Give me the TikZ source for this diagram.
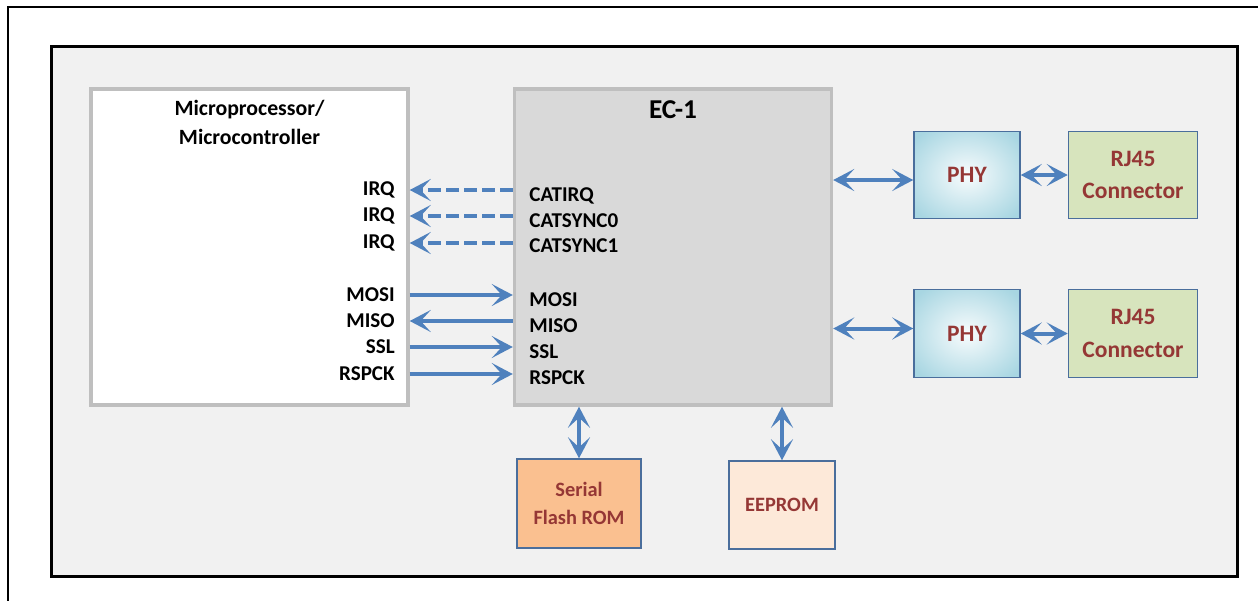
\documentclass[tikz,border=0pt]{standalone}
\usepackage{fontspec}
\setmainfont{Carlito}
\usetikzlibrary{arrows.meta,positioning,calc}
\definecolor{arrowblue}{HTML}{4F81BD}
\definecolor{textred}{HTML}{953735}
\definecolor{boxedge}{HTML}{4A6E9C}
\definecolor{chipgray}{HTML}{BFBFBF}
\definecolor{ecfill}{HTML}{D9D9D9}
\definecolor{panelgray}{HTML}{F1F1F1}
\definecolor{phyblue}{HTML}{A8D6E2}
\definecolor{rjgreen}{HTML}{D7E4BD}
\definecolor{flashorange}{HTML}{FAC090}
\definecolor{eepromfill}{HTML}{FDE9D9}
\pgfdeclareradialshading{physhade}{\pgfpoint{0bp}{0bp}}{color(0bp)=(white!92!phyblue); color(18bp)=(white!40!phyblue); color(32bp)=(phyblue); color(70bp)=(phyblue)}

\begin{document}
\begin{tikzpicture}[x=0.02cm,y=-0.02cm]
\useasboundingbox (0,0) rectangle (1258,600);
\clip (0,0) rectangle (1258,600);

% frames
\draw[line width=0.05cm] (8,7) rectangle (1300,650);
\draw[line width=0.06cm,fill=panelgray] (51,46) rectangle (1237,576);

\begin{scope}[chip/.style={draw=chipgray,line width=0.07cm,minimum width=6.34cm,minimum height=6.32cm},
  block/.style={draw=boxedge,line width=0.03cm,align=center,text=textred,font=\bfseries\fontsize{13.4}{18.5}\selectfont},
  sig/.style={inner sep=0pt,font=\bfseries\fontsize{12}{14}\selectfont},
  bus/.style={arrowblue,line width=0.08cm,-{Stealth[length=0.42cm,width=0.44cm,inset=0.2cm]}},
  bibus/.style={arrowblue,line width=0.08cm,{Stealth[length=0.42cm,width=0.44cm,inset=0.2cm]}-{Stealth[length=0.42cm,width=0.44cm,inset=0.2cm]}}]
% Nodes
\node[chip,fill=white,label={[align=center,anchor=north,yshift=-0.14cm,font=\bfseries\fontsize{12.4}{16.5}\selectfont]north:Microprocessor/\\Microcontroller}] at (249.5,247) (mcu) {};
\node[chip,fill=ecfill,label={[anchor=north,yshift=-0.14cm,font=\bfseries\fontsize{15.5}{18}\selectfont]north:EC-1}] at (673,247) (ec) {};

\node[block,shading=physhade,minimum width=2.12cm,minimum height=1.74cm] at (967,175) (phy1) {PHY};
\node[block,fill=rjgreen,minimum width=2.58cm,minimum height=1.74cm,right=0.94cm of phy1] (rj1) {RJ45\\Connector};
\node[block,shading=physhade,minimum width=2.12cm,minimum height=1.76cm] at (967,333.5) (phy2) {PHY};
\node[block,fill=rjgreen,minimum width=2.58cm,minimum height=1.76cm,right=0.94cm of phy2] (rj2) {RJ45\\Connector};

\node[block,fill=flashorange,minimum width=2.48cm,minimum height=1.78cm,font=\bfseries\fontsize{11.6}{16}\selectfont] at (579,503.5) (flash) {Serial\\Flash ROM};
\node[block,fill=eepromfill,minimum width=2.12cm,minimum height=1.76cm,font=\bfseries\fontsize{11.6}{16}\selectfont] at (782,505) (eeprom) {EEPROM};

% signal names, mcu side
\node[sig,anchor=east] at (395,190) (irq1) {IRQ};
\node[sig,anchor=east] at (395,216) (irq2) {IRQ};
\node[sig,anchor=east] at (395,243) (irq3) {IRQ};
\node[sig,anchor=east] at (395,295) (mosi_m) {MOSI};
\node[sig,anchor=east] at (395,321) (miso_m) {MISO};
\node[sig,anchor=east] at (395,347) (ssl_m) {SSL};
\node[sig,anchor=east] at (395,374) (rspck_m) {RSPCK};

% signal names, ec side
\node[sig,anchor=west] at (529,196) (catirq) {CATIRQ};
\node[sig,anchor=west] at (529,221) (catsync0) {CATSYNC0};
\node[sig,anchor=west] at (529,246) (catsync1) {CATSYNC1};
\node[sig,anchor=west] at (529,300) (mosi_e) {MOSI};
\node[sig,anchor=west] at (529,326) (miso_e) {MISO};
\node[sig,anchor=west] at (529,352) (ssl_e) {SSL};
\node[sig,anchor=west] at (529,378) (rspck_e) {RSPCK};

%arcs
\path (ec.west |- irq1) edge[bus,dash pattern=on 0.26cm off 0.1cm] (mcu.east |- irq1);
\path (ec.west |- irq2) edge[bus,dash pattern=on 0.26cm off 0.1cm] (mcu.east |- irq2);
\path (ec.west |- irq3) edge[bus,dash pattern=on 0.26cm off 0.1cm] (mcu.east |- irq3);

\path (mcu.east |- mosi_m) edge[bus] (ec.west |- mosi_m);
\path (ec.west |- miso_m) edge[bus] (mcu.east |- miso_m);
\path (mcu.east |- ssl_m) edge[bus] (ec.west |- ssl_m);
\path (mcu.east |- rspck_m) edge[bus] (ec.west |- rspck_m);

\path ([yshift=-0.1cm]ec.east |- phy1) edge[bibus] ([yshift=-0.1cm]phy1.west);
\path ([yshift=0.1cm]ec.east |- phy2) edge[bibus] ([yshift=0.1cm]phy2.west);
\path (phy1) edge[bibus] (rj1);
\path (phy2) edge[bibus] (rj2);

\path (ec.south -| flash) edge[bibus] (flash.north);
\path (ec.south -| eeprom) edge[bibus] (eeprom.north);
\end{scope}

\end{tikzpicture}
\end{document}
